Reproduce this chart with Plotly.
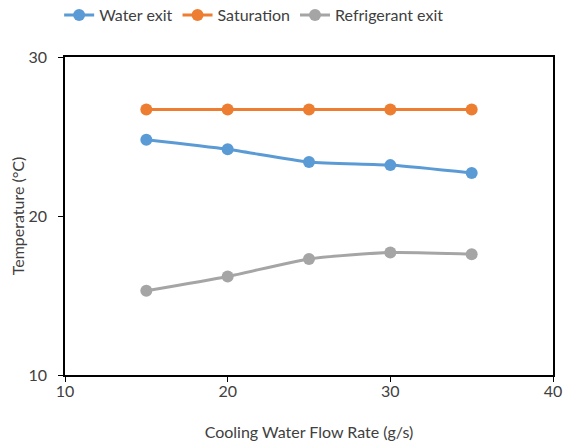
import plotly.graph_objects as go

flow_rate = [15, 20, 25, 30, 35]
water_exit = [24.8, 24.2, 23.4, 23.2, 22.7]
saturation = [26.7, 26.7, 26.7, 26.7, 26.7]
refrigerant_exit = [15.3, 16.2, 17.3, 17.7, 17.6]

series = [
    ("Water exit", water_exit, "#5B9BD5"),
    ("Saturation", saturation, "#ED7D31"),
    ("Refrigerant exit", refrigerant_exit, "#A5A5A5"),
]

fig = go.Figure()
for name, vals, color in series:
    fig.add_trace(go.Scatter(
        x=flow_rate, y=vals, name=name, mode="lines+markers",
        line=dict(color=color, width=3, shape="spline", smoothing=0.6),
        marker=dict(color=color, size=12),
    ))

axis_style = dict(
    showgrid=False, zeroline=False, showline=True, linecolor="black", linewidth=1.5,
    mirror=True, ticks="outside", ticklen=5, tickcolor="black",
    tickfont=dict(size=16, color="#404040"), automargin=False,
)

fig.update_layout(
    width=564, height=446,
    margin=dict(l=65, r=11, t=57, b=71, autoexpand=False),
    paper_bgcolor="white", plot_bgcolor="white",
    font=dict(family="Lato, Open Sans, sans-serif", color="#404040"),
    showlegend=True,
    legend=dict(orientation="h", x=-0.012, xanchor="left", y=1.132, yanchor="middle",
                font=dict(size=16, color="#404040"), traceorder="normal"),
    xaxis=dict(range=[10, 40], dtick=10, ticklabelstandoff=-4,
               title=dict(text="Cooling Water Flow Rate (g/s)", font=dict(size=16, color="#404040"), standoff=28),
               **axis_style),
    yaxis=dict(range=[10, 30], dtick=10, ticklabelstandoff=8,
               title=dict(text="Temperature (°C)", font=dict(size=16, color="#404040"), standoff=0),
               **axis_style),
)

# drop the default 8px page margin so the figure fills the window
fig.write_html("out.html", config={"displayModeBar": False},
               post_script="document.body.style.margin='0';document.body.style.overflow='hidden';")
